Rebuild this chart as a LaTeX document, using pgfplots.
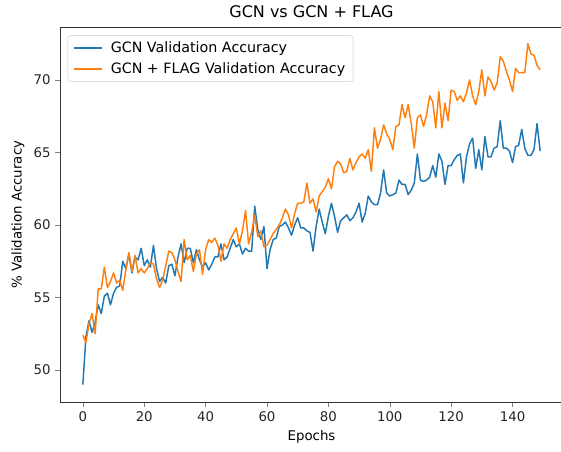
\documentclass[border=0pt]{standalone}
\usepackage{pgfplots}
\pgfplotsset{compat=1.18}
\usepackage{fontspec}
\setmainfont{DejaVu Sans}
\definecolor{tabblue}{HTML}{1F77B4}
\definecolor{taborange}{HTML}{FF7F0E}
\begin{document}
\begin{tikzpicture}
\path[use as bounding box] (0pt,0pt) rectangle (420.75pt,338.25pt);
\begin{axis}[
  at={(45pt,36.75pt)}, anchor=south west,
  scale only axis, width=377.25pt, height=280.9pt,
  xmin=-7.45, xmax=156.45, ymin=47.8, ymax=73.62,
  xtick={0,20,...,140}, ytick={50,55,...,70},
  tick align=outside, tick pos=left,
  major tick length=3.5pt,
  /pgf/number format/assume math mode=true,
  tick label style={font=\fontsize{10}{12}\selectfont, text=black!85},
  label style={font=\fontsize{10}{12}\selectfont},
  xlabel={Epochs}, ylabel={\% Validation Accuracy},
  title={GCN vs GCN + FLAG},
  title style={font=\fontsize{12}{14}\selectfont, yshift=-2pt},
  axis line style={black!80},
  legend style={at={(0.0153,0.979)}, anchor=north west, draw=black!20, rounded corners=2pt,
    font=\fontsize{10.7}{12}\selectfont, inner xsep=4pt, inner ysep=2.5pt, row sep=2pt},
  legend cell align=left,
  legend image code/.code={\draw[#1] (0pt,0pt) -- (21pt,0pt); \path (25pt,0pt);},
  every axis plot/.append style={line width=1.1pt, line join=round},
]
\addplot[tabblue, no markers] coordinates {
(0,49.0)(1,52.3)(2,53.4)(3,52.6)(4,53.3)(5,54.5)(6,53.9)(7,55.1)(8,55.3)(9,54.5)
(10,55.3)(11,55.7)(12,55.8)(13,57.5)(14,57.0)(15,58.0)(16,56.7)(17,57.8)(18,57.6)(19,58.4)
(20,57.2)(21,57.6)(22,57.1)(23,58.6)(24,57.0)(25,56.1)(26,56.4)(27,56.0)(28,57.2)(29,57.3)
(30,56.5)(31,57.8)(32,58.7)(33,57.4)(34,58.4)(35,58.4)(36,57.4)(37,58.3)(38,57.6)(39,57.1)
(40,57.4)(41,56.9)(42,57.3)(43,57.8)(44,57.8)(45,58.7)(46,57.6)(47,57.8)(48,58.4)(49,59.0)
(50,58.5)(51,58.7)(52,58.0)(53,58.4)(54,58.2)(55,58.2)(56,61.3)(57,59.7)(58,59.0)(59,59.9)
(60,57.0)(61,58.3)(62,59.0)(63,59.1)(64,59.9)(65,60.0)(66,60.2)(67,59.8)(68,59.3)(69,60.0)
(70,60.5)(71,59.8)(72,59.8)(73,59.6)(74,59.5)(75,58.2)(76,59.9)(77,61.1)(78,60.2)(79,59.4)
(80,60.6)(81,61.5)(82,60.6)(83,59.5)(84,60.3)(85,60.5)(86,60.7)(87,60.3)(88,60.5)(89,60.9)
(90,61.5)(91,60.2)(92,60.8)(93,62.0)(94,61.6)(95,61.4)(96,61.4)(97,62.2)(98,63.8)(99,62.2)
(100,62.0)(101,62.1)(102,62.2)(103,63.1)(104,62.8)(105,62.8)(106,62.1)(107,62.4)(108,62.9)(109,64.9)
(110,63.1)(111,63.0)(112,63.1)(113,63.3)(114,64.1)(115,63.3)(116,64.9)(117,64.4)(118,62.8)(119,64.1)
(120,64.1)(121,64.5)(122,64.8)(123,64.9)(124,62.9)(125,64.7)(126,65.6)(127,66.0)(128,63.9)(129,65.2)
(130,63.8)(131,66.1)(132,64.7)(133,64.7)(134,65.3)(135,65.4)(136,67.2)(137,65.3)(138,65.3)(139,65.1)
(140,64.3)(141,65.4)(142,65.5)(143,66.6)(144,65.3)(145,64.8)(146,64.8)(147,65.2)(148,67.0)(149,65.1)
};
\addlegendentry{GCN Validation Accuracy}
\addplot[taborange, no markers] coordinates {
(0,52.4)(1,51.9)(2,53.2)(3,53.9)(4,52.5)(5,55.6)(6,55.6)(7,57.1)(8,55.7)(9,56.1)
(10,56.7)(11,56.0)(12,56.2)(13,55.5)(14,56.9)(15,58.1)(16,56.8)(17,57.9)(18,56.7)(19,57.0)
(20,56.7)(21,57.0)(22,57.4)(23,57.3)(24,56.3)(25,55.7)(26,56.2)(27,57.2)(28,58.2)(29,58.1)
(30,57.6)(31,56.8)(32,56.1)(33,59.0)(34,57.6)(35,57.9)(36,56.8)(37,58.0)(38,58.3)(39,56.6)
(40,58.3)(41,59.0)(42,58.8)(43,59.1)(44,58.6)(45,57.5)(46,58.7)(47,58.4)(48,59.0)(49,59.4)
(50,59.8)(51,58.7)(52,59.6)(53,61.0)(54,58.7)(55,59.5)(56,60.7)(57,59.2)(58,59.6)(59,58.5)
(60,58.6)(61,59.0)(62,59.4)(63,59.7)(64,60.0)(65,60.5)(66,61.1)(67,60.7)(68,59.8)(69,60.8)
(70,61.5)(71,61.5)(72,61.6)(73,62.9)(74,61.5)(75,61.8)(76,60.9)(77,62.0)(78,62.3)(79,62.6)
(80,63.2)(81,62.5)(82,64.0)(83,64.4)(84,64.2)(85,63.6)(86,63.7)(87,64.6)(88,63.8)(89,64.3)
(90,64.7)(91,64.9)(92,64.6)(93,65.2)(94,63.7)(95,66.7)(96,65.3)(97,65.9)(98,66.9)(99,66.3)
(100,65.9)(101,65.2)(102,66.8)(103,66.9)(104,68.3)(105,67.4)(106,68.3)(107,67.0)(108,65.3)(109,67.4)
(110,67.6)(111,66.8)(112,67.6)(113,68.9)(114,68.5)(115,66.7)(116,69.2)(117,66.7)(118,68.4)(119,67.2)
(120,69.3)(121,69.2)(122,68.6)(123,68.9)(124,68.5)(125,69.1)(126,70.0)(127,68.9)(128,68.3)(129,69.2)
(130,70.7)(131,68.9)(132,70.2)(133,69.9)(134,69.3)(135,69.8)(136,71.6)(137,71.3)(138,70.6)(139,70.0)
(140,69.2)(141,70.8)(142,70.5)(143,70.5)(144,70.5)(145,72.5)(146,71.8)(147,71.7)(148,71.0)(149,70.7)
};
\addlegendentry{GCN + FLAG Validation Accuracy}
\end{axis}
\end{tikzpicture}
\end{document}
